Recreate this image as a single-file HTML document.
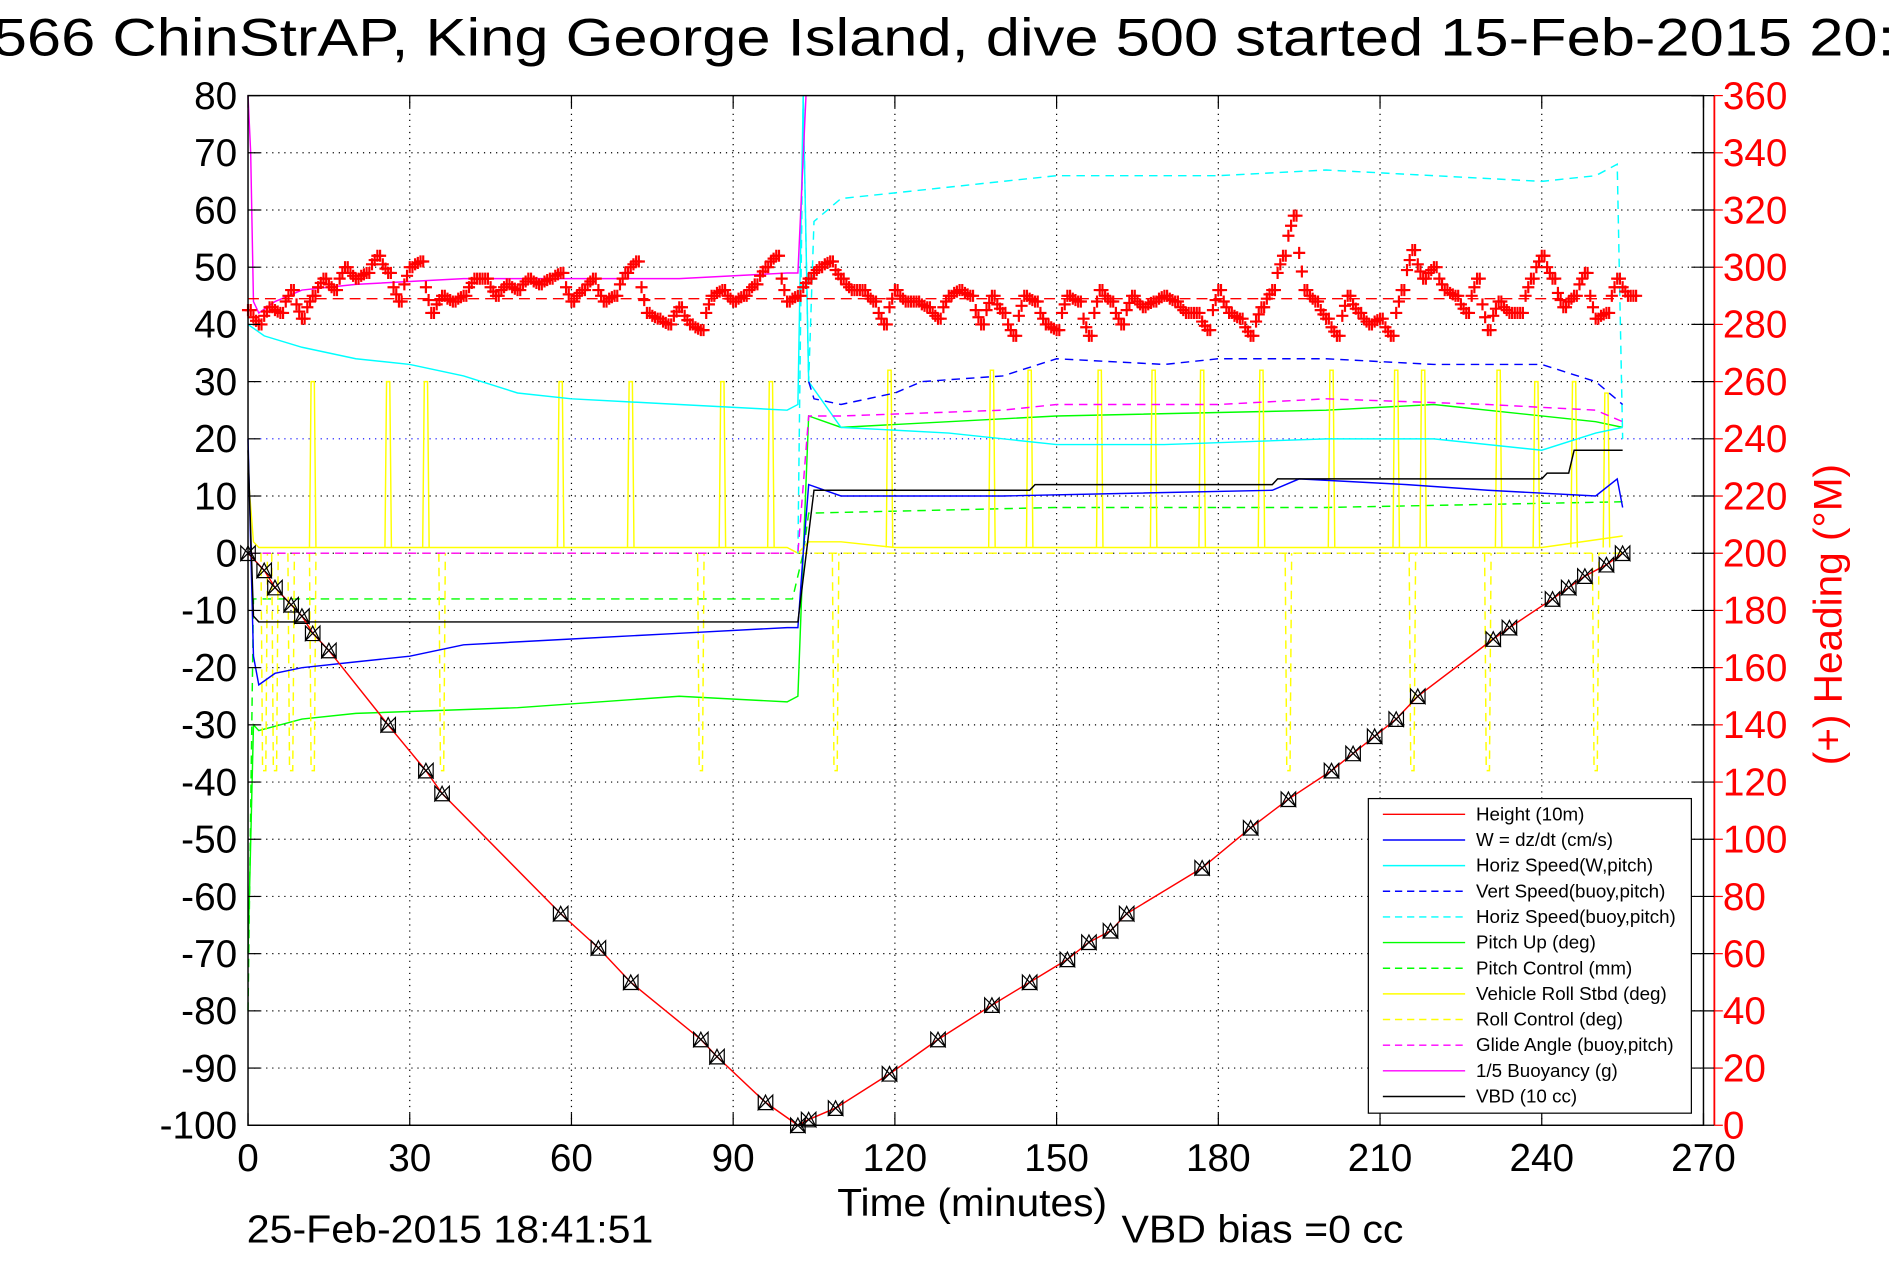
<!DOCTYPE html>
<html><head><meta charset="utf-8"><style>
html,body{margin:0;padding:0;background:#fff;}
svg{display:block;font-family:"Liberation Sans",Arial,sans-serif;}
</style></head><body>
<svg id="chart" width="1891" height="1262" viewBox="0 0 1563 1043" preserveAspectRatio="none" xmlns="http://www.w3.org/2000/svg">
<rect x="0" y="0" width="1563" height="1043" fill="#fff"/>
<text x="-6" y="46" font-size="44" fill="#000" textLength="1572" lengthAdjust="spacingAndGlyphs">566 ChinStrAP, King George Island, dive 500 started 15-Feb-2015 20:</text>
<g id="grid"></g>
<g id="series"></g>
<g id="axes"></g>
<text x="692" y="1005" font-size="32" textLength="223" lengthAdjust="spacingAndGlyphs">Time (minutes)</text>
<text x="204" y="1027" font-size="32" textLength="336" lengthAdjust="spacingAndGlyphs">25-Feb-2015 18:41:51</text>
<text x="927" y="1027" font-size="32" textLength="233" lengthAdjust="spacingAndGlyphs">VBD bias =0 cc</text>
<text transform="translate(1522,508) rotate(-90)" font-size="33" fill="#f00" text-anchor="middle" textLength="249" lengthAdjust="spacingAndGlyphs">(+) Heading (°M)</text>
<g id="legend"></g>
</svg>
<script>
// ---- data ----
const xTicks = [0,30,60,90,120,150,180,210,240,270];
const yTicks = [80,70,60,50,40,30,20,10,0,-10,-20,-30,-40,-50,-60,-70,-80,-90,-100];
const rTicks = [360,340,320,300,280,260,240,220,200,180,160,140,120,100,80,60,40,20,0];
const heightT = [0,3,5,8,10,12,15,26,33,36,58,65,71,84,87,96,102,104,109,119,128,138,145,152,156,160,163,177,186,193,201,205,209,213,217,231,234,242,245,248,252,255];
const heightV = [0,-3,-6,-9,-11,-14,-17,-30,-38,-42,-63,-69,-75,-85,-88,-96,-100,-99,-97,-91,-85,-79,-75,-71,-68,-66,-63,-55,-48,-43,-38,-35,-32,-29,-25,-15,-13,-8,-6,-4,-2,0];
const headingT = [0,2,4,6,8,10,12,14,16,18,20,22,24,26,28,30,32,34,36,38,40,42,44,46,48,50,52,54,56,58,60,62,64,66,68,70,72,74,76,78,80,82,84,86,88,90,92,94,96,98,100,102,104,106,108,110,112,114,116,118,120,122,124,126,128,130,132,134,136,138,140,142,144,146,148,150,152,154,156,158,160,162,164,166,168,170,172,174,176,178,180,182,184,186,188,190,192,194,196,198,200,202,204,206,208,210,212,214,216,218,220,222,224,226,228,230,232,234,236,238,240,242,244,246,248,250,252,254,256];
const headingV = [285,280,286,284,292,282,290,296,292,300,296,298,304,298,288,300,302,284,290,288,290,296,296,290,294,292,296,294,296,298,288,292,296,288,290,298,302,284,282,280,286,280,278,290,292,288,290,294,300,304,288,290,296,300,302,296,292,292,288,280,292,288,288,286,282,290,292,290,280,290,284,276,290,288,280,278,290,288,276,292,288,280,290,286,288,290,288,284,284,278,292,284,282,276,286,292,304,318,292,288,282,276,290,284,280,282,276,292,306,296,300,292,290,284,296,278,288,284,284,296,304,296,286,290,298,282,284,296,290];
const headingMean = 289;
const wT = [0,1,2,5,10,20,30,40,60,80,100,102,103,104,110,140,190,195,215,230,250,254,255];
const wV = [20,-18,-23,-21,-20,-19,-18,-16,-15,-14,-13,-13,0,12,10,10,11,13,12,11,10,13,8];
const vsT = [104,105,110,120,125,140,150,170,180,200,220,240,250,255];
const vsV = [30,27,26,28,30,31,34,33,34,34,33,33,30,26];
const hsT = [0,3,10,20,30,40,50,60,80,100,102,103,104,110,130,150,170,200,220,240,250,255];
const hsV = [40,38,36,34,33,31,28,27,26,25,26,80,30,22,21,19,19,20,20,18,21,22];
const hbT = [102,103,104,105,110,120,140,150,180,200,220,240,250,254,255];
const hbV = [0,80,30,58,62,63,65,66,66,67,66,65,66,68,20];
const pitchT = [0,1,2,10,20,50,80,100,102,103,104,110,130,150,200,220,250,255];
const pitchV = [-70,-30,-31,-29,-28,-27,-25,-26,-25,0,24,22,23,24,25,26,23,22];
const pcT = [0,1,2,100,101,103,104,150,200,255];
const pcV = [-80,-8,-8,-8,-8,0,7,8,8,9];
const rollT = [0,1,2,100,102,104,110,120,150,200,240,255];
const rollV = [14,2,1,1,0,2,2,1,1,1,1,3];
const spikeT = [12,26,33,58,71,88,97,119,138,145,158,168,177,188,201,213,218,232,239,246,252];
const spikeV = [30,30,30,30,30,30,30,32,32,32,32,32,32,32,32,32,32,32,30,30,28];
const rcSpikeT = [3,5,8,12,36,84,109,193,216,230,250];
const rcSpikeV = [-38,-38,-38,-38,-38,-38,-38,-38,-38,-38,-38];
const glideT = [0,102,104,110,140,150,180,200,230,250,255];
const glideV = [0,0,24,24,25,26,26,27,26,25,23];
const buoyT = [0,0.5,1,2,5,10,20,40,60,80,100,102,103.5];
const buoyV = [80,70,44,42,44,46,47,48,48,48,49,49,80];
const vbdT = [0,1,2,100,102,105,145,146,190,191,240,241,245,246,255];
const vbdV = [18,-11,-12,-12,-12,11,11,12,12,13,13,14,14,18,18];

// ---- axes functions ----
const L=205,R=1408,T=79,B=930;
function X(t){return L+(t-0)/(270-0)*(R-L);}
function Y(v){return B-(v+100)/180*(B-T);}
function YR(h){return B-h/360*(B-T);}
const NS="http://www.w3.org/2000/svg";
function mk(parent,tag,attrs){const e=document.createElementNS(NS,tag);for(const k in attrs)e.setAttribute(k,attrs[k]);document.getElementById(parent).appendChild(e);return e;}
function pts(ts,vs,f){return ts.map((t,i)=>X(t).toFixed(1)+','+f(vs[i]).toFixed(1)).join(' ');}

// grid
xTicks.forEach((t,i)=>{ if(i>0&&i<xTicks.length-1){const g=mk('grid','line',{x1:X(t),x2:X(t),y1:T,y2:B,stroke:'#000','stroke-width':1,'stroke-dasharray':'1,4'});

}});
yTicks.forEach((v,i)=>{ if(i>0&&i<yTicks.length-1){const g=mk('grid','line',{x1:L,x2:R,y1:Y(v),y2:Y(v),stroke:v===20?'#00f':'#000','stroke-width':1,'stroke-dasharray':'1,4'});

}});

function line(name,ts,vs,color,dash,f){const p=mk('series','polyline',{points:pts(ts,vs,f||Y),fill:'none',stroke:color,'stroke-width':1.2});if(dash)p.setAttribute('stroke-dasharray',dash);

return p;}
function spikes(name,ts,vs,base,color,dash){ts.forEach((t,i)=>{const p=mk('series','polyline',{points:[X(t-0.6),Y(base),X(t-0.3),Y(vs[i]),X(t+0.3),Y(vs[i]),X(t+0.6),Y(base)].join(' '),fill:'none',stroke:color,'stroke-width':1.2});if(dash)p.setAttribute('stroke-dasharray',dash);

});}

line('pitch-up-line',pitchT,pitchV,'#0f0');
line('pitch-control-line',pcT,pcV,'#0f0','7,5');
line('roll-control-line',rollT.map(t=>t),rollT.map(()=>0),'#ff0','7,5');
spikes('roll-control-spike',rcSpikeT,rcSpikeV,0,'#ff0','7,5');
line('vehicle-roll-line',rollT,rollV,'#ff0');
spikes('vehicle-roll-spike',spikeT,spikeV,1,'#ff0');
line('horiz-speed-line',hsT,hsV,'#0ff');
line('horiz-speed-buoy-line',hbT,hbV,'#0ff','7,5');
line('glide-angle-line',glideT,glideV,'#f0f','7,5');
line('w-line',wT,wV,'#00f');
line('vert-speed-buoy-line',vsT,vsV,'#00f','7,5');
line('buoyancy-line',buoyT,buoyV,'#f0f');
line('vbd-line',vbdT,vbdV,'#000');
const hm=mk('series','line',{x1:X(0),x2:X(255),y1:YR(headingMean),y2:YR(headingMean),stroke:'#f00','stroke-width':1.2,'stroke-dasharray':'9,5'});


line('height-line',heightT,heightV,'#f00');
heightT.forEach((t,i)=>{const x=X(t),y=Y(heightV[i]);
const m=mk('series','path',{d:`M${x-6},${y+6}L${x},${y-6}L${x+6},${y+6}Z M${x-6},${y-6}L${x+6},${y+6}L${x+6},${y-6}L${x-6},${y+6}Z`,fill:'none',stroke:'#000','stroke-width':1});

});
headingT.forEach((t,i)=>{for(let k=0;k<4;k++){const x=X(t+k*0.5),y=YR(headingV[i]+(k<2?0:(headingV[Math.min(i+1,headingV.length-1)]-headingV[i])*(k/4)));
const m=mk('series','path',{d:`M${x-5},${y}H${x+5}M${x},${y-5}V${y+5}`,stroke:'#f00','stroke-width':1.8});

}});

// axes
const fr=mk('axes','rect',{x:L,y:T,width:R-L,height:B-T,fill:'none',stroke:'#000','stroke-width':1.2});


const ra=mk('axes','line',{x1:R+9,x2:R+9,y1:T,y2:B,stroke:'#f00','stroke-width':1.5});


xTicks.forEach(t=>{mk('axes','line',{x1:X(t),x2:X(t),y1:B,y2:B-10,stroke:'#000'});mk('axes','line',{x1:X(t),x2:X(t),y1:T,y2:T+10,stroke:'#000'});
const tx=mk('axes','text',{x:X(t),y:B+38,'font-size':32,'text-anchor':'middle'});tx.textContent=t;

});
yTicks.forEach(v=>{mk('axes','line',{x1:L,x2:L+10,y1:Y(v),y2:Y(v),stroke:'#000'});
const tx=mk('axes','text',{x:L-9,y:Y(v)+11,'font-size':32,'text-anchor':'end'});tx.textContent=v;

});
rTicks.forEach(h=>{mk('axes','line',{x1:R-10,x2:R+9,y1:YR(h),y2:YR(h),stroke:'#000'});mk('axes','line',{x1:R+9,x2:R+16,y1:YR(h),y2:YR(h),stroke:'#f00'});
const tx=mk('axes','text',{x:R+16,y:YR(h)+11,'font-size':32,fill:'#f00'});tx.textContent=h;

});

// legend
const legLabels=['Height (10m)','W = dz/dt (cm/s)','Horiz Speed(W,pitch)','Vert Speed(buoy,pitch)','Horiz Speed(buoy,pitch)','Pitch Up (deg)','Pitch Control (mm)','Vehicle Roll Stbd (deg)','Roll Control (deg)','Glide Angle (buoy,pitch)','1/5 Buoyancy (g)','VBD (10 cc)'];
const legColors=['#f00','#00f','#0ff','#00f','#0ff','#0f0','#0f0','#ff0','#ff0','#f0f','#f0f','#000'];
const legDash=[0,0,0,1,1,0,1,0,1,1,0,0];
const lb=mk('legend','rect',{x:1131,y:660,width:267,height:260,fill:'#fff',stroke:'#000','stroke-width':1});


legLabels.forEach((s,i)=>{const y=673+i*21.2;
const l=mk('legend','line',{x1:1143,x2:1211,y1:y,y2:y,stroke:legColors[i],'stroke-width':1.2});if(legDash[i])l.setAttribute('stroke-dasharray','6,4');


const tx=mk('legend','text',{x:1220,y:y+5,'font-size':15.5});tx.textContent=s;

});
</script>
</body></html>
